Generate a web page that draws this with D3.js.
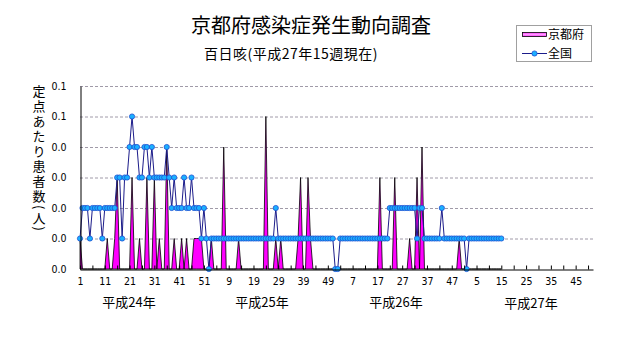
<!DOCTYPE html>
<html>
<head>
<meta charset="utf-8">
<script src="https://cdn.jsdelivr.net/npm/d3@7"></script>
<style>
  body { margin: 0; background: #fff; }
  svg { display: block; }
  text { font-family: "Noto Sans CJK JP", "Noto Sans", sans-serif; fill: #000; }
</style>
</head>
<body>
<svg id="chart" width="631" height="347"></svg>
<script>
// ---- data ----
const title = "京都府感染症発生動向調査";
const subtitle = "百日咳(平成27年15週現在)";
const yTitle = "定点あたり患者数(人)";
const seriesNames = ["京都府", "全国"];
const yearLabels = ["平成24年", "平成25年", "平成26年", "平成27年"];
const weeksPerYear = [52, 52, 52, 52];
const xTickLabels = ["1","11","21","31","41","51","9","19","29","39","49","7","17","27","37","47","5","15","25","35","45"];
const yTicks = [0, 0.01, 0.02, 0.03, 0.04, 0.05, 0.06];

// 全国 (national), weeks 1.. of 平成24年 through 平成27年第15週
const zenkoku = [
  0.01,0.02,0.02,0.02,0.01,0.02,0.02,0.02,0.02,0.01,
  0.02,0.02,0.02,0.02,0.02,0.03,0.03,0.01,0.03,0.03,
  0.04,0.05,0.04,0.04,0.03,0.03,0.04,0.04,0.03,0.04,
  0.03,0.03,0.03,0.03,0.03,0.04,0.03,0.02,0.03,0.02,
  0.02,0.02,0.03,0.02,0.02,0.03,0.02,0.02,0.02,0.01,
  0.02,0.01,0.00,0.01,0.01,0.01,0.01,0.01,0.01,0.01,
  0.01,0.01,0.01,0.01,0.01,0.01,0.01,0.01,0.01,0.01,
  0.01,0.01,0.01,0.01,0.01,0.01,0.01,0.01,0.01,0.02,
  0.01,0.01,0.01,0.01,0.01,0.01,0.01,0.01,0.01,0.01,
  0.01,0.01,0.01,0.01,0.01,0.01,0.01,0.01,0.01,0.01,
  0.01,0.01,0.01,0.00,0.00,0.01,0.01,0.01,0.01,0.01,
  0.01,0.01,0.01,0.01,0.01,0.01,0.01,0.01,0.01,0.01,
  0.01,0.01,0.01,0.01,0.01,0.02,0.02,0.02,0.02,0.02,
  0.02,0.02,0.02,0.02,0.02,0.02,0.01,0.02,0.02,0.01,
  0.01,0.01,0.01,0.01,0.01,0.01,0.02,0.01,0.01,0.01,
  0.01,0.01,0.01,0.01,0.01,0.01,0.00,0.01,0.01,0.01,
  0.01,0.01,0.01,0.01,0.01,0.01,0.01,0.01,0.01,0.01,0.01
];

// 京都府 (Kyoto)
const kyoto = [
  0.01,0,0,0,0,0,0,0,0,0,
  0,0.01,0,0,0.01,0.03,0,0,0,0,
  0,0.03,0,0,0.01,0,0,0.03,0,0,
  0.03,0,0.01,0,0,0.04,0,0,0.01,0,
  0,0.01,0,0.01,0,0,0.01,0.01,0.01,0.01,
  0,0,0,0.01,0,0,0,0,0.04,0,
  0,0,0,0,0.01,0,0,0,0,0,
  0,0,0,0,0,0.05,0,0,0,0.01,
  0,0.01,0,0,0,0,0,0,0.01,0.03,
  0,0,0.03,0.01,0,0,0,0,0,0,
  0,0,0,0,0,0,0,0,0,0,
  0,0,0,0,0,0,0,0,0,0,
  0,0.03,0,0,0,0,0,0.03,0,0,
  0,0,0,0.01,0,0,0.03,0,0.04,0,
  0,0,0,0,0,0,0,0,0,0,
  0,0,0,0.01,0,0,0,0,0,0,
  0,0,0,0,0,0,0,0,0,0,0
];

// ---- chart ----
const svg = d3.select("#chart");
const totalWeeks = d3.sum(weeksPerYear);
const x = d3.scaleLinear().domain([1, totalWeeks]).range([80, 593]);
const y = d3.scaleLinear().domain([0, 0.06]).range([269, 86]);
const fmt = d3.format(".1f");

// titles
svg.append("text").attr("x", 311).attr("y", 33).attr("text-anchor", "middle")
  .style("font-size", "20px").text(title);
svg.append("text").attr("x", 291).attr("y", 59).attr("text-anchor", "middle")
  .style("font-size", "14px").style("letter-spacing", "0.5px").text(subtitle);

// gridlines
svg.append("g").selectAll("line").data(yTicks.slice(1)).join("line")
  .attr("x1", x(1)).attr("x2", x(totalWeeks))
  .attr("y1", d => y(d) + 0.5).attr("y2", d => y(d) + 0.5)
  .attr("stroke", "#a09aa8").attr("stroke-width", 1).attr("stroke-dasharray", "3,2");

// Kyoto area
const area = d3.area().x((d, i) => x(i + 1)).y0(y(0)).y1(d => y(d));
svg.append("path").datum(kyoto).attr("d", area)
  .attr("fill", "#ff00ff").attr("stroke", "#000").attr("stroke-width", 0.8)
  .attr("stroke-linejoin", "miter");

// National line + markers
const line = d3.line().x((d, i) => x(i + 1)).y(d => y(d));
svg.append("path").datum(zenkoku).attr("d", line)
  .attr("fill", "none").attr("stroke", "#1c1c8a").attr("stroke-width", 1);
svg.append("g").selectAll("circle").data(zenkoku).join("circle")
  .attr("cx", (d, i) => x(i + 1)).attr("cy", d => y(d)).attr("r", 2.6)
  .attr("fill", "#1ab0ff").attr("stroke", "#1f4fd0").attr("stroke-width", 0.8);

// axes
const yAxis = svg.append("g").attr("transform", "translate(80.5,0)")
  .call(d3.axisLeft(y).tickValues(yTicks).tickFormat(fmt).tickSize(0).tickPadding(14));
yAxis.select(".domain").attr("stroke", "#000");
yAxis.selectAll("text").style("font-size", "10.5px").style("font-family", "'DejaVu Sans Condensed','Liberation Sans Narrow',sans-serif");

const majorTicks = d3.range(1, totalWeeks, 5);
const labelTicks = d3.range(1, totalWeeks, 10);
const xAxis = svg.append("g").attr("transform", "translate(0,269.5)")
  .call(d3.axisBottom(x).tickValues(majorTicks).tickSizeInner(-4).tickSizeOuter(0)
    .tickFormat(d => { const k = labelTicks.indexOf(d); return k >= 0 ? xTickLabels[k] : ""; })
    .tickPadding(8));
xAxis.select(".domain").attr("stroke", "#000");
xAxis.selectAll("text").style("font-size", "10.5px").style("font-family", "'DejaVu Sans Condensed','Liberation Sans Narrow',sans-serif");

// year labels (layout positions)
const yearLabelX = [129, 262, 396, 531];
svg.append("g").selectAll("text").data(yearLabels).join("text")
  .attr("x", (d, i) => yearLabelX[i]).attr("y", (d, i) => i === 3 ? 308 : 307).attr("text-anchor", "middle")
  .style("font-size", "13px").text(d => d);

// y-axis title (vertical)
svg.append("text").attr("x", 39).attr("y", 85)
  .style("writing-mode", "vertical-rl").style("text-orientation", "mixed")
  .style("font-size", "13px").style("letter-spacing", "2px").text(yTitle);

// legend
const lg = svg.append("g");
lg.append("rect").attr("x", 516.5).attr("y", 25.5).attr("width", 75).attr("height", 36)
  .attr("fill", "#fff").attr("stroke", "#a0a0a0");
const grad = svg.append("defs").append("linearGradient").attr("id", "pg")
  .attr("x1", 0).attr("y1", 0).attr("x2", 0).attr("y2", 1);
grad.append("stop").attr("offset", "0").attr("stop-color", "#ff33ff");
grad.append("stop").attr("offset", "0.5").attr("stop-color", "#ff99ff");
grad.append("stop").attr("offset", "1").attr("stop-color", "#ff33ff");
lg.append("rect").attr("x", 522.5).attr("y", 32.5).attr("width", 24).attr("height", 4)
  .attr("fill", "url(#pg)").attr("stroke", "#000").attr("stroke-width", 0.8);
lg.append("text").attr("x", 548).attr("y", 39).style("font-size", "12px").text(seriesNames[0]);
lg.append("line").attr("x1", 522).attr("x2", 547).attr("y1", 53.5).attr("y2", 53.5)
  .attr("stroke", "#1c1c8a");
lg.append("circle").attr("cx", 534.5).attr("cy", 53.5).attr("r", 2.6)
  .attr("fill", "#1ab0ff").attr("stroke", "#1f4fd0").attr("stroke-width", 0.8);
lg.append("text").attr("x", 548).attr("y", 58).style("font-size", "12px").text(seriesNames[1]);
</script>
</body>
</html>
